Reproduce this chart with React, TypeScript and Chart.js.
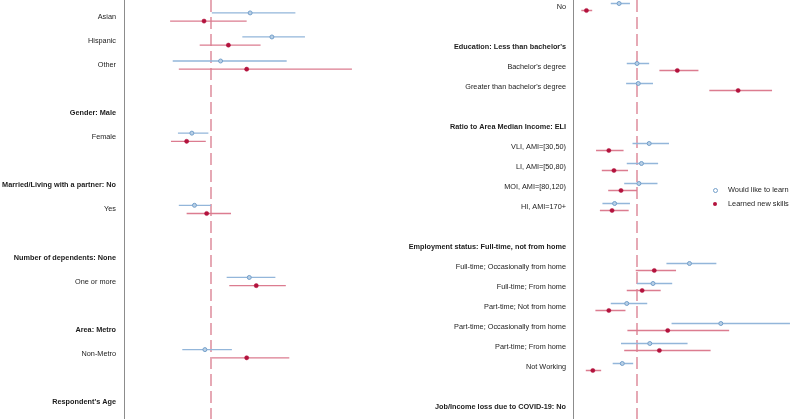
import React, { useEffect, useRef } from "react";
import { Chart, registerables } from "chart.js";
Chart.register(...registerables);

const FONT = "'Liberation Sans', Arial, Helvetica, sans-serif";

// ---------- Left panel ----------
const leftLabels = [
  "Asian", "Hispanic", "Other", "",
  "Gender: Male", "Female", "",
  "Married/Living with a partner: No", "Yes", "",
  "Number of dependents: None", "One or more", "",
  "Area: Metro", "Non-Metro", "",
  "Respondent's Age",
];
const leftHeaders = [4, 7, 10, 13, 16];
const leftRows = [0, 1, 2, 5, 8, 11, 14];
const leftLearnEst = [1.45, 1.70, 1.11, 0.78, 0.81, 1.44, 0.93];
const leftLearnLo = [1.01, 1.36, 0.56, 0.62, 0.63, 1.18, 0.67];
const leftLearnHi = [1.97, 2.08, 1.87, 0.97, 1.00, 1.74, 1.24];
const leftSkillEst = [0.92, 1.20, 1.41, 0.72, 0.95, 1.52, 1.41];
const leftSkillLo = [0.53, 0.87, 0.63, 0.54, 0.72, 1.21, 1.01];
const leftSkillHi = [1.41, 1.57, 2.62, 0.94, 1.23, 1.86, 1.90];

// ---------- Right panel ----------
const rightLabels = [
  "No", "",
  "Education: Less than bachelor's", "Bachelor's degree", "Greater than bachelor's degree", "",
  "Ratio to Area Median Income: ELI", "VLI, AMI=[30,50)", "LI, AMI=[50,80)", "MOI, AMI=[80,120)", "HI, AMI=170+", "",
  "Employment status: Full-time, not from home", "Full-time; Occasionally from home", "Full-time; From home",
  "Part-time; Not from home", "Part-time; Occasionally from home", "Part-time; From home", "Not Working", "",
  "Job/Income loss due to COVID-19: No",
];
const rightHeaders = [2, 6, 12, 20];
const rightRows = [0, 3, 4, 7, 8, 9, 10, 13, 14, 15, 16, 17, 18];
const rightLearnEst = [0.72, 1.00, 1.02, 1.19, 1.07, 1.03, 0.65, 1.82, 1.25, 0.84, 2.31, 1.20, 0.77];
const rightLearnLo = [0.59, 0.84, 0.83, 0.93, 0.84, 0.80, 0.46, 1.46, 1.00, 0.59, 1.54, 0.75, 0.62];
const rightLearnHi = [0.89, 1.19, 1.25, 1.50, 1.33, 1.32, 0.89, 2.24, 1.55, 1.16, 3.39, 1.79, 0.94];
const rightSkillEst = [0.21, 1.63, 2.58, 0.56, 0.64, 0.75, 0.61, 1.27, 1.08, 0.56, 1.48, 1.35, 0.31];
const rightSkillLo = [0.13, 1.35, 2.13, 0.36, 0.45, 0.55, 0.42, 0.98, 0.84, 0.35, 0.85, 0.80, 0.20];
const rightSkillHi = [0.30, 1.96, 3.11, 0.79, 0.86, 1.00, 0.87, 1.61, 1.37, 0.82, 2.44, 2.15, 0.44];

const seriesNames = ["Would like to learn", "Learned new skills"];
const refValue = 1;

const BLUE_LINE = "#93b6da";
const BLUE_PT = "#739fca";
const RED_LINE = "#dc7c90";
const RED_PT = "#b3123d";
const REF = "rgba(214,110,130,0.85)";

type Panel = {
  labels: string[];
  headers: number[];
  rows: number[];
  learnEst: number[]; learnLo: number[]; learnHi: number[];
  skillEst: number[]; skillLo: number[]; skillHi: number[];
  xMax: number; yMin: number; yMax: number;
  axisWidth: number; labelPad: number; offset: number;
};

function ci(rows: number[], lo: number[], hi: number[], off: number) {
  return rows.flatMap((r, i) => [
    { x: lo[i], y: r + off },
    { x: hi[i], y: r + off },
    { x: NaN, y: NaN },
  ]);
}
function pts(rows: number[], est: number[], off: number) {
  return rows.map((r, i) => ({ x: est[i], y: r + off }));
}

function makeConfig(p: Panel): any {
  return {
    type: "scatter",
    data: {
      datasets: [
        {
          label: seriesNames[0],
          data: pts(p.rows, p.learnEst, -p.offset),
          pointRadius: 2,
          pointHoverRadius: 2,
          pointBackgroundColor: "#b9d0e6",
          pointBorderColor: BLUE_PT,
          pointBorderWidth: 1,
        },
        {
          label: seriesNames[1],
          data: pts(p.rows, p.skillEst, p.offset),
          pointRadius: 2.1,
          pointHoverRadius: 2.1,
          pointBackgroundColor: RED_PT,
          pointBorderColor: RED_PT,
          pointBorderWidth: 0.5,
        },
        {
          label: "ci-learn",
          data: ci(p.rows, p.learnLo, p.learnHi, -p.offset),
          showLine: true,
          spanGaps: false,
          pointRadius: 0,
          pointHoverRadius: 0,
          borderColor: BLUE_LINE,
          borderWidth: 1.3,
        },
        {
          label: "ci-skill",
          data: ci(p.rows, p.skillLo, p.skillHi, p.offset),
          showLine: true,
          spanGaps: false,
          pointRadius: 0,
          pointHoverRadius: 0,
          borderColor: RED_LINE,
          borderWidth: 1.3,
        },
        {
          label: "ref",
          data: [
            { x: refValue, y: p.yMin },
            { x: refValue, y: p.yMax },
          ],
          showLine: true,
          pointRadius: 0,
          pointHoverRadius: 0,
          borderColor: REF,
          borderWidth: 1.4,
          borderDash: [12, 5],
        },
      ],
    },
    options: {
      animation: false,
      responsive: true,
      maintainAspectRatio: false,
      events: [],
      layout: { padding: 0, autoPadding: false },
      plugins: {
        legend: { display: false },
        tooltip: { enabled: false },
      },
      scales: {
        x: {
          type: "linear",
          min: 0,
          max: p.xMax,
          display: false,
        },
        y: {
          type: "linear",
          reverse: true,
          min: p.yMin,
          max: p.yMax,
          grid: { display: false, drawTicks: false },
          border: { display: true, color: "#8c8c8c", width: 1 },
          afterBuildTicks: (scale: any) => {
            scale.ticks = p.labels.map((_, i) => ({ value: i }));
          },
          afterFit: (scale: any) => {
            scale.width = p.axisWidth;
            scale.paddingTop = 0;
            scale.paddingBottom = 0;
          },
          ticks: {
            autoSkip: false,
            padding: p.labelPad,
            color: "#1c1c1c",
            callback: (v: any) => p.labels[v] ?? "",
            font: (ctx: any) => ({
              family: FONT,
              size: 7.3,
              weight: p.headers.includes(ctx.tick ? ctx.tick.value : ctx.index) ? "bold" : "normal",
            }),
          },
        },
      },
    },
  };
}

const leftPanel: Panel = {
  labels: leftLabels, headers: leftHeaders, rows: leftRows,
  learnEst: leftLearnEst, learnLo: leftLearnLo, learnHi: leftLearnHi,
  skillEst: leftSkillEst, skillLo: leftSkillLo, skillHi: leftSkillHi,
  xMax: 276 / 87, yMin: -17 / 24.05, yMax: -17 / 24.05 + 419 / 24.05,
  axisWidth: 124, labelPad: 8, offset: 0.17,
};
const rightPanel: Panel = {
  labels: rightLabels, headers: rightHeaders, rows: rightRows,
  learnEst: rightLearnEst, learnLo: rightLearnLo, learnHi: rightLearnHi,
  skillEst: rightSkillEst, skillLo: rightSkillLo, skillHi: rightSkillHi,
  xMax: 227 / 64, yMin: -7 / 20, yMax: -7 / 20 + 419 / 20,
  axisWidth: 173, labelPad: 7, offset: 0.175,
};

function PanelChart({ panel, left }: { panel: Panel; left: number }) {
  const ref = useRef<HTMLCanvasElement | null>(null);
  useEffect(() => {
    if (!ref.current) return;
    const chart = new Chart(ref.current, makeConfig(panel));
    return () => chart.destroy();
  }, []);
  return (
    <div style={{ position: "absolute", left, top: 0, width: 400, height: 419 }}>
      <canvas ref={ref} />
    </div>
  );
}

export default function App() {
  const legendText: React.CSSProperties = {
    position: "absolute",
    left: 728,
    fontFamily: FONT,
    fontSize: 7.4,
    color: "#1c1c1c",
    lineHeight: "10px",
    whiteSpace: "nowrap",
  };
  return (
    <div style={{ position: "fixed", left: 0, top: 0, width: 800, height: 419, background: "#fff", overflow: "hidden" }}>
      <PanelChart panel={leftPanel} left={0} />
      <PanelChart panel={rightPanel} left={400} />
      <div style={{ position: "absolute", left: 713, top: 187.5, width: 3, height: 3, borderRadius: "50%", border: `0.8px solid ${BLUE_PT}`, background: "#fff" }} />
      <div style={{ ...legendText, top: 184.5 }}>{seriesNames[0]}</div>
      <div style={{ position: "absolute", left: 713, top: 201.5, width: 4, height: 4, borderRadius: "50%", background: RED_PT }} />
      <div style={{ ...legendText, top: 198.5 }}>{seriesNames[1]}</div>
    </div>
  );
}
